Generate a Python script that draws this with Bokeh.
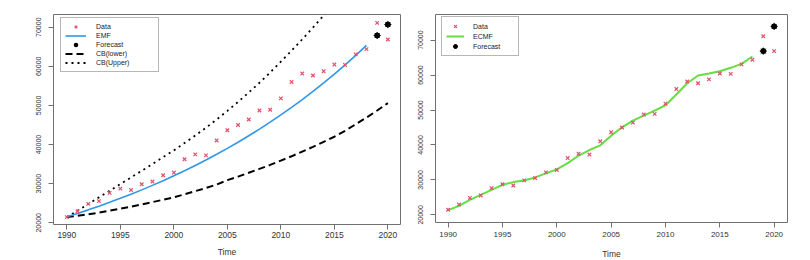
from bokeh.plotting import figure
from bokeh.models import Range1d, FixedTicker, Legend, LegendItem
from bokeh.layouts import row
from bokeh.embed import file_html
from bokeh.resources import INLINE

# ---- data ----
years = list(range(1990, 2021))
data = [21450, 22950, 24850, 25550, 27650, 28750, 28400, 29850, 30550, 32150,
        32850, 36250, 37500, 37250, 41050, 43650, 45000, 46400, 48700, 48900,
        51800, 56000, 58150, 57650, 58750, 60450, 60350, 63050, 64400, 71100,
        66850]
fit_years = list(range(1990, 2019))
emf = [21530, 22400, 23310, 24250, 25230, 26250, 27310, 28420, 29570, 30760,
       32010, 33300, 34650, 36050, 37510, 39030, 40600, 42250, 43960, 45730,
       47580, 49510, 51510, 53590, 55760, 58010, 60360, 62800, 65340]
cb_lower = [21500, 21800, 22200, 22600, 23100, 23600, 24100, 24700, 25300, 25900,
            26500, 27300, 28100, 28900, 29800, 30900, 31800, 32800, 33800, 34800,
            35900, 37000, 38200, 39400, 40700, 42000, 43500, 45200, 46900, 48700,
            50600]
cb_upper = [21500, 23100, 24800, 26500, 28200, 29900, 31600, 33300, 35000, 36800,
            38500, 40400, 42300, 44300, 46400, 48600, 50900, 53300, 55800, 58400,
            61200, 64000, 66900, 69900, 73000, 76200, 79500, 82900, 86400, 90000,
            93700]
ecmf = [21340, 22580, 24300, 25740, 27170, 28600, 29370, 29850, 30710, 31860,
        33000, 34820, 36920, 38550, 39890, 42660, 45050, 46960, 48390, 49830,
        51360, 54420, 57670, 59870, 60440, 61110, 62070, 63210, 65300]
fc_years = [2019, 2020]
fc_emf = [67870, 70680]
fc_ecmf = [66850, 73920]
x_ticks = [1990, 1995, 2000, 2005, 2010, 2015, 2020]
y_ticks = [20000, 30000, 40000, 50000, 60000, 70000]

FONT = "Liberation Sans"
RED = "#DF536B"
BLUE = "#2F97E8"
GREEN = "#66DD44"
FRAME = "#707070"


def base(fw, fh, bl, br, bt, bb, xr, yr, xfs, xstand, lstand, ystand):
    p = figure(frame_width=fw, frame_height=fh, min_border_left=bl,
               min_border_right=br, min_border_top=bt, min_border_bottom=bb,
               x_range=Range1d(*xr), y_range=Range1d(*yr),
               output_backend="svg", toolbar_location=None)
    p.grid.visible = False
    p.outline_line_color = FRAME
    p.outline_line_width = 1
    p.background_fill_color = "white"
    p.border_fill_color = "white"
    p.xaxis.ticker = FixedTicker(ticks=x_ticks)
    p.yaxis.ticker = FixedTicker(ticks=y_ticks)
    for ax in (p.xaxis[0], p.yaxis[0]):
        ax.axis_line_color = None
        ax.major_tick_in = 0
        ax.major_tick_out = 5
        ax.major_tick_line_color = FRAME
        ax.minor_tick_line_color = None
        ax.major_label_text_font = FONT
        ax.major_label_text_color = "#333333"
    p.xaxis.major_label_text_font_size = xfs
    p.xaxis.major_label_standoff = xstand
    p.xaxis.axis_label = "Time"
    p.xaxis.axis_label_text_font = FONT
    p.xaxis.axis_label_text_font_size = "8.5px"
    p.xaxis.axis_label_text_font_style = "normal"
    p.xaxis.axis_label_text_color = "#333333"
    p.xaxis.axis_label_standoff = lstand
    p.yaxis.major_label_text_font_size = "7px"
    p.yaxis.major_label_orientation = "vertical"
    p.yaxis.major_label_standoff = ystand
    p.yaxis.formatter.use_scientific = False
    return p


def legend(items, loc, gw, gh, pad, stand, lw):
    lg = Legend(items=items, location=loc, margin=0, padding=pad, spacing=0,
                glyph_width=gw, glyph_height=gh, label_height=gh,
                label_standoff=stand, label_width=lw,
                label_text_font=FONT, label_text_font_size="7px",
                label_text_color="#222222",
                border_line_color=FRAME, border_line_width=1,
                background_fill_color="white", background_fill_alpha=1)
    return lg


# ---- left panel ----
p1 = base(347, 210, 53, 5, 14, 36, (1988.754, 2021.18), (19570, 73240),
          "8.5px", 2, 6, 7)
r_up = p1.line(years, cb_upper, line_color="black", line_width=1.8, line_dash="2 4")
r_lo = p1.line(years, cb_lower, line_color="black", line_width=2, line_dash="7 4")
r_emf = p1.line(fit_years, emf, line_color=BLUE, line_width=1.6)
r_d1 = p1.scatter(years, data, marker="x", size=5, line_color=RED, line_width=1.2)
r_fc1 = p1.scatter(fc_years, fc_emf, marker="circle", size=5, fill_color="black", line_color="black")
r_fa1 = p1.scatter(fc_years, fc_emf, marker="asterisk", size=7, line_color="black", line_width=1)
lg1 = legend([LegendItem(label="Data", renderers=[r_d1]),
              LegendItem(label="EMF", renderers=[r_emf]),
              LegendItem(label="Forecast", renderers=[r_fc1, r_fa1]),
              LegendItem(label="CB(lower)", renderers=[r_lo]),
              LegendItem(label="CB(Upper)", renderers=[r_up])],
             (7, 152), 21, 9, 4, 10, 58)
p1.add_layout(lg1)

# ---- right panel ----
p2 = base(352, 208, 30, 23, 10, 42, (1988.836, 2021.23), (17810, 77330),
          "8px", 4, 9, 7)
r_ec = p2.line(fit_years, ecmf, line_color=GREEN, line_width=2)
r_d2 = p2.scatter(years, data, marker="x", size=5, line_color=RED, line_width=1.2)
r_fc2 = p2.scatter(fc_years, fc_ecmf, marker="circle", size=5, fill_color="black", line_color="black")
r_fa2 = p2.scatter(fc_years, fc_ecmf, marker="asterisk", size=7, line_color="black", line_width=1)
lg2 = legend([LegendItem(label="Data", renderers=[r_d2]),
              LegendItem(label="ECMF", renderers=[r_ec]),
              LegendItem(label="Forecast", renderers=[r_fc2, r_fa2])],
             (6, 166), 18, 10, 4, 9, 41)
p2.add_layout(lg2)

layout = row(p1, p2)
open("out.html", "w").write(file_html(layout, INLINE))
